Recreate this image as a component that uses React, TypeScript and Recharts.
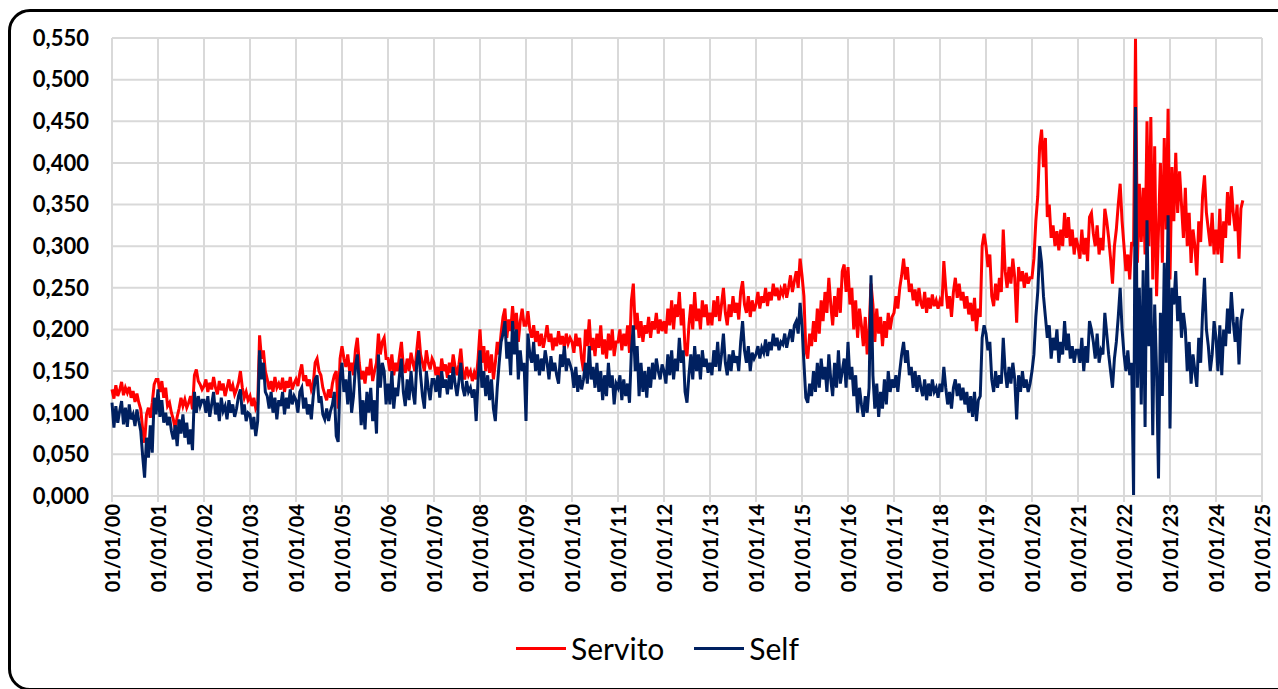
import React from 'react';
import { LineChart, Line, XAxis, YAxis, CartesianGrid, Legend } from 'recharts';

// Half-monthly readings (24 per year), starting 01/01/2000
const startYear = 2000;
const stepsPerYear = 24;

const servito: number[] = [
  // 2000
  0.128,0.117,0.133,0.120,0.127,0.137,0.121,0.130,0.124,0.131,0.118,0.126,0.113,0.123,0.112,0.104,0.080,0.064,0.098,0.106,0.094,0.112,0.134,0.140,
  // 2001
  0.140,0.125,0.138,0.118,0.130,0.108,0.112,0.100,0.092,0.080,0.095,0.105,0.118,0.108,0.116,0.106,0.112,0.120,0.104,0.145,0.152,0.138,0.134,0.128,
  // 2002
  0.132,0.140,0.125,0.136,0.128,0.143,0.130,0.122,0.138,0.127,0.135,0.120,0.130,0.140,0.126,0.133,0.122,0.128,0.136,0.150,0.130,0.118,0.125,0.115,
  // 2003
  0.120,0.108,0.118,0.105,0.110,0.193,0.165,0.175,0.150,0.140,0.128,0.138,0.125,0.143,0.130,0.135,0.128,0.142,0.125,0.138,0.130,0.143,0.128,0.135,
  // 2004
  0.140,0.132,0.148,0.158,0.138,0.145,0.132,0.140,0.128,0.135,0.160,0.165,0.150,0.145,0.130,0.122,0.115,0.128,0.118,0.135,0.145,0.150,0.105,0.165,
  // 2005
  0.180,0.165,0.155,0.170,0.150,0.160,0.145,0.175,0.190,0.160,0.140,0.150,0.135,0.155,0.145,0.165,0.138,0.150,0.160,0.195,0.170,0.185,0.190,0.165,
  // 2006
  0.165,0.150,0.170,0.145,0.160,0.150,0.168,0.185,0.155,0.148,0.165,0.150,0.172,0.160,0.150,0.175,0.198,0.170,0.160,0.150,0.175,0.160,0.152,0.165,
  // 2007
  0.160,0.145,0.155,0.140,0.165,0.150,0.158,0.142,0.160,0.148,0.170,0.155,0.145,0.158,0.177,0.150,0.140,0.155,0.145,0.150,0.138,0.148,0.140,0.165,
  // 2008
  0.200,0.160,0.180,0.150,0.175,0.148,0.170,0.140,0.160,0.185,0.170,0.195,0.215,0.225,0.190,0.212,0.198,0.228,0.200,0.220,0.185,0.210,0.225,0.205,
  // 2009
  0.205,0.222,0.200,0.190,0.205,0.185,0.198,0.180,0.195,0.178,0.190,0.205,0.185,0.195,0.175,0.190,0.180,0.198,0.182,0.192,0.178,0.195,0.183,0.190,
  // 2010
  0.185,0.172,0.195,0.180,0.190,0.165,0.150,0.200,0.180,0.212,0.175,0.190,0.168,0.195,0.178,0.205,0.170,0.188,0.165,0.195,0.175,0.200,0.168,0.185,
  // 2011
  0.185,0.200,0.175,0.195,0.180,0.205,0.172,0.235,0.255,0.200,0.220,0.190,0.210,0.185,0.205,0.195,0.215,0.190,0.210,0.200,0.220,0.195,0.212,0.198,
  // 2012
  0.210,0.195,0.225,0.205,0.235,0.200,0.230,0.215,0.245,0.205,0.225,0.175,0.168,0.205,0.230,0.200,0.245,0.210,0.225,0.200,0.235,0.215,0.230,0.205,
  // 2013
  0.220,0.205,0.235,0.215,0.240,0.210,0.230,0.250,0.220,0.205,0.230,0.215,0.240,0.220,0.232,0.212,0.245,0.258,0.230,0.220,0.240,0.215,0.235,0.222,
  // 2014
  0.230,0.245,0.225,0.240,0.232,0.250,0.228,0.245,0.235,0.255,0.240,0.250,0.235,0.248,0.242,0.255,0.238,0.250,0.265,0.245,0.258,0.270,0.250,0.285,
  // 2015
  0.265,0.240,0.175,0.165,0.195,0.180,0.210,0.185,0.225,0.195,0.235,0.210,0.245,0.220,0.262,0.230,0.205,0.240,0.215,0.250,0.220,0.270,0.278,0.245,
  // 2016
  0.275,0.230,0.250,0.200,0.235,0.190,0.225,0.205,0.180,0.215,0.170,0.200,0.255,0.230,0.185,0.225,0.195,0.215,0.180,0.210,0.190,0.220,0.200,0.215,
  // 2017
  0.220,0.240,0.225,0.250,0.265,0.285,0.260,0.275,0.245,0.255,0.235,0.248,0.228,0.250,0.232,0.225,0.245,0.220,0.238,0.225,0.242,0.228,0.235,0.225,
  // 2018
  0.235,0.228,0.282,0.250,0.225,0.240,0.215,0.245,0.262,0.238,0.255,0.235,0.245,0.225,0.240,0.218,0.232,0.210,0.238,0.198,0.225,0.215,0.300,0.315,
  // 2019
  0.300,0.275,0.290,0.240,0.228,0.255,0.235,0.262,0.245,0.320,0.270,0.250,0.275,0.255,0.285,0.262,0.208,0.275,0.258,0.270,0.250,0.268,0.255,0.262,
  // 2020
  0.262,0.285,0.330,0.360,0.420,0.440,0.395,0.430,0.335,0.350,0.310,0.325,0.300,0.318,0.295,0.320,0.300,0.340,0.310,0.335,0.300,0.320,0.290,0.310,
  // 2021
  0.300,0.285,0.320,0.290,0.310,0.282,0.335,0.340,0.315,0.300,0.325,0.290,0.310,0.295,0.345,0.330,0.310,0.285,0.255,0.300,0.320,0.350,0.375,0.330,
  // 2022
  0.300,0.270,0.290,0.260,0.305,0.300,0.549,0.280,0.375,0.305,0.370,0.290,0.450,0.300,0.455,0.260,0.420,0.240,0.320,0.400,0.280,0.430,0.320,0.465,
  // 2023
  0.260,0.395,0.330,0.412,0.340,0.390,0.350,0.310,0.370,0.300,0.340,0.280,0.320,0.300,0.265,0.330,0.305,0.360,0.385,0.340,0.320,0.300,0.340,0.290,
  // 2024
  0.320,0.290,0.345,0.280,0.330,0.310,0.365,0.325,0.372,0.340,0.318,0.350,0.285,0.345,0.355,
];

const self: number[] = [
  // 2000
  0.112,0.082,0.108,0.088,0.102,0.114,0.086,0.106,0.083,0.110,0.092,0.098,0.084,0.104,0.090,0.078,0.048,0.022,0.070,0.046,0.085,0.052,0.118,0.098,
  // 2001
  0.128,0.095,0.115,0.088,0.100,0.085,0.095,0.078,0.068,0.085,0.060,0.092,0.075,0.098,0.070,0.088,0.062,0.080,0.055,0.125,0.100,0.120,0.108,0.115,
  // 2002
  0.115,0.100,0.120,0.095,0.110,0.125,0.098,0.112,0.090,0.118,0.102,0.108,0.092,0.115,0.100,0.110,0.095,0.105,0.120,0.128,0.098,0.110,0.090,0.100,
  // 2003
  0.098,0.080,0.095,0.072,0.090,0.175,0.140,0.160,0.125,0.120,0.105,0.125,0.100,0.118,0.092,0.115,0.108,0.125,0.098,0.118,0.105,0.128,0.110,0.120,
  // 2004
  0.115,0.100,0.125,0.130,0.105,0.118,0.098,0.110,0.092,0.120,0.140,0.145,0.112,0.120,0.098,0.092,0.105,0.090,0.102,0.110,0.125,0.072,0.065,0.140,
  // 2005
  0.160,0.125,0.140,0.110,0.150,0.100,0.120,0.155,0.170,0.135,0.085,0.115,0.080,0.125,0.100,0.130,0.090,0.115,0.075,0.170,0.130,0.160,0.150,0.110,
  // 2006
  0.135,0.110,0.150,0.105,0.130,0.120,0.145,0.165,0.125,0.108,0.140,0.115,0.150,0.125,0.110,0.160,0.175,0.145,0.120,0.105,0.150,0.130,0.115,0.140,
  // 2007
  0.140,0.125,0.145,0.118,0.150,0.130,0.140,0.122,0.145,0.128,0.155,0.135,0.120,0.138,0.160,0.130,0.120,0.138,0.125,0.130,0.118,0.128,0.090,0.140,
  // 2008
  0.175,0.130,0.150,0.120,0.145,0.115,0.140,0.105,0.090,0.130,0.160,0.185,0.195,0.210,0.165,0.185,0.145,0.210,0.170,0.200,0.140,0.175,0.150,0.160,
  // 2009
  0.090,0.195,0.170,0.160,0.185,0.150,0.170,0.145,0.165,0.150,0.175,0.160,0.140,0.168,0.150,0.160,0.145,0.135,0.170,0.155,0.180,0.150,0.165,0.158,
  // 2010
  0.150,0.130,0.155,0.125,0.145,0.128,0.140,0.160,0.135,0.180,0.140,0.155,0.130,0.160,0.125,0.150,0.115,0.145,0.120,0.160,0.130,0.145,0.110,0.135,
  // 2011
  0.130,0.145,0.115,0.140,0.120,0.135,0.112,0.175,0.205,0.150,0.180,0.120,0.160,0.125,0.150,0.118,0.155,0.130,0.160,0.140,0.165,0.150,0.140,0.158,
  // 2012
  0.150,0.135,0.170,0.145,0.175,0.140,0.165,0.150,0.190,0.160,0.175,0.125,0.112,0.145,0.170,0.140,0.180,0.150,0.170,0.140,0.175,0.155,0.165,0.148,
  // 2013
  0.160,0.145,0.175,0.155,0.185,0.150,0.170,0.195,0.160,0.145,0.170,0.150,0.175,0.160,0.168,0.150,0.185,0.210,0.175,0.160,0.180,0.150,0.172,0.165,
  // 2014
  0.170,0.180,0.165,0.178,0.172,0.188,0.168,0.185,0.175,0.195,0.180,0.190,0.175,0.185,0.182,0.195,0.178,0.190,0.200,0.185,0.205,0.210,0.195,0.232,
  // 2015
  0.205,0.160,0.118,0.112,0.135,0.120,0.150,0.125,0.160,0.130,0.165,0.140,0.155,0.125,0.170,0.140,0.120,0.160,0.130,0.175,0.135,0.150,0.165,0.130,
  // 2016
  0.185,0.140,0.155,0.120,0.145,0.100,0.130,0.110,0.095,0.120,0.100,0.130,0.265,0.145,0.105,0.135,0.095,0.125,0.105,0.140,0.110,0.150,0.125,0.140,
  // 2017
  0.130,0.145,0.125,0.150,0.170,0.185,0.160,0.175,0.145,0.155,0.130,0.150,0.125,0.145,0.130,0.120,0.140,0.115,0.135,0.120,0.140,0.125,0.130,0.118,
  // 2018
  0.135,0.125,0.155,0.130,0.110,0.125,0.105,0.130,0.140,0.120,0.135,0.115,0.130,0.110,0.125,0.100,0.120,0.095,0.125,0.090,0.115,0.120,0.190,0.205,
  // 2019
  0.195,0.175,0.185,0.140,0.125,0.150,0.130,0.145,0.135,0.190,0.150,0.130,0.155,0.135,0.160,0.140,0.092,0.145,0.125,0.150,0.130,0.140,0.125,0.135,
  // 2020
  0.150,0.170,0.215,0.245,0.300,0.280,0.240,0.215,0.190,0.205,0.165,0.190,0.175,0.200,0.160,0.185,0.170,0.210,0.175,0.195,0.165,0.180,0.160,0.175,
  // 2021
  0.175,0.160,0.190,0.150,0.180,0.160,0.210,0.200,0.185,0.165,0.195,0.160,0.175,0.170,0.220,0.195,0.170,0.150,0.130,0.165,0.185,0.215,0.250,0.200,
  // 2022
  0.170,0.150,0.175,0.145,0.160,0.000,0.467,0.130,0.250,0.110,0.271,0.083,0.331,0.180,0.250,0.073,0.230,0.150,0.021,0.220,0.120,0.280,0.160,0.337,
  // 2023
  0.081,0.250,0.230,0.270,0.210,0.240,0.190,0.220,0.200,0.150,0.185,0.135,0.170,0.150,0.131,0.190,0.160,0.220,0.262,0.200,0.180,0.150,0.170,0.210,
  // 2024
  0.190,0.150,0.205,0.145,0.200,0.180,0.225,0.195,0.245,0.210,0.185,0.215,0.158,0.210,0.225,
];

const yearTicks = [2000,2001,2002,2003,2004,2005,2006,2007,2008,2009,2010,2011,2012,2013,2014,2015,2016,2017,2018,2019,2020,2021,2022,2023,2024,2025];
const xTickLabels = ['01/01/00','01/01/01','01/01/02','01/01/03','01/01/04','01/01/05','01/01/06','01/01/07','01/01/08','01/01/09','01/01/10','01/01/11','01/01/12','01/01/13','01/01/14','01/01/15','01/01/16','01/01/17','01/01/18','01/01/19','01/01/20','01/01/21','01/01/22','01/01/23','01/01/24','01/01/25'];
const yTicks = [0,0.05,0.1,0.15,0.2,0.25,0.3,0.35,0.4,0.45,0.5,0.55];

const seriesMeta = [
  { key: 'servito', name: 'Servito', color: '#ff0000' },
  { key: 'self', name: 'Self', color: '#002060' },
];

const data = servito.map((v, i) => ({
  t: startYear + i / stepsPerYear,
  servito: v,
  self: self[i],
}));

const FONT = 'Lato, "Liberation Sans", sans-serif';

const XTick = (props: any) => {
  const { x, y, payload } = props;
  const idx = yearTicks.indexOf(payload.value);
  const label = idx >= 0 ? xTickLabels[idx] : '';
  return (
    <text
      x={x}
      y={y}
      transform={`rotate(-90, ${x}, ${y})`}
      textAnchor="end"
      dominantBaseline="central"
      fontFamily={FONT}
      fontSize={20}
      fontWeight={700}
      fill="#000"
    >
      {label}
    </text>
  );
};

const renderLegend = () => (
  <div
    style={{
      display: 'flex',
      justifyContent: 'center',
      alignItems: 'center',
      fontFamily: FONT,
      fontSize: 30,
      color: '#000',
      paddingLeft: 37,
      height: 36,
    }}
  >
    {seriesMeta.map((s, i) => (
      <div
        key={s.key}
        style={{ display: 'flex', alignItems: 'center', marginLeft: i === 0 ? 0 : 30 }}
      >
        <span style={{ display: 'inline-block', width: 50, height: 3, background: s.color, marginRight: 5 }} />
        <span>{s.name}</span>
      </div>
    ))}
  </div>
);

export default function App() {
  return (
    <div
      style={{
        position: 'absolute',
        left: 0,
        top: 0,
        width: 1278,
        height: 689,
        overflow: 'hidden',
        background: '#fff',
      }}
    >
      <div
        style={{
          position: 'absolute',
          left: 8,
          top: 9,
          width: 1290,
          height: 682,
          border: '3px solid #000',
          borderRadius: 22,
          boxSizing: 'border-box',
        }}
      />
      <div style={{ position: 'absolute', left: 0, top: 0 }}>
        <LineChart
          width={1278}
          height={689}
          data={data}
          margin={{ top: 38, right: 16, left: 22, bottom: 93 }}
        >
          <CartesianGrid stroke="#d9d9d9" strokeWidth={2} />
          <XAxis
            dataKey="t"
            type="number"
            domain={[2000, 2025]}
            ticks={yearTicks}
            interval={0}
            height={100}
            axisLine={{ stroke: '#d9d9d9', strokeWidth: 2 }}
            tickLine={{ stroke: '#d9d9d9', strokeWidth: 2 }}
            tickSize={6}
            tickMargin={2}
            tick={<XTick />}
          />
          <YAxis
            type="number"
            domain={[0, 0.55]}
            ticks={yTicks}
            interval={0}
            width={90}
            axisLine={false}
            tickLine={false}
            tickSize={0}
            tickMargin={23}
            tickFormatter={(v: number) => v.toFixed(3).replace('.', ',')}
            tick={{ fontFamily: FONT, fontSize: 22, fontWeight: 700, fill: '#000' }}
          />
          <Legend
            verticalAlign="middle"
            align="center"
            layout="horizontal"
            wrapperStyle={{ top: 630, left: 0, width: 1278, height: 36 }}
            content={renderLegend}
          />
          {seriesMeta.map((s) => (
            <Line
              key={s.key}
              type="linear"
              dataKey={s.key}
              name={s.name}
              stroke={s.color}
              strokeWidth={3}
              dot={false}
              activeDot={false}
              isAnimationActive={false}
            />
          ))}
        </LineChart>
      </div>
    </div>
  );
}
